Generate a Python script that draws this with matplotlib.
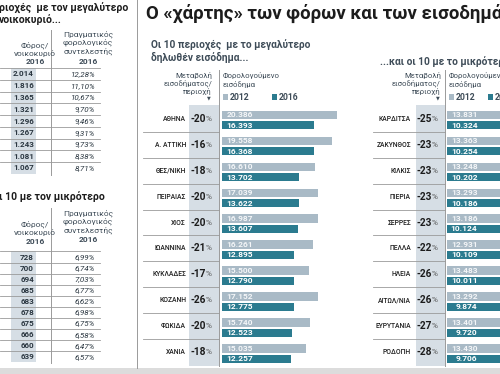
import numpy as np
import matplotlib
matplotlib.use("Agg")
import matplotlib.pyplot as plt
import matplotlib.transforms as mtransforms
from matplotlib.patches import Rectangle
from matplotlib.lines import Line2D

plt.rcParams['font.family'] = ['Roboto', 'DejaVu Sans']

tax_high = [2014, 1816, 1365, 1321, 1296, 1267, 1243, 1081, 1067]
rate_high = ['12,28%', '11,10%', '10,67%', '9,70%', '9,46%', '9,31%', '9,73%', '8,38%', '8,71%']
tax_low = [728, 700, 694, 685, 683, 678, 675, 666, 660, 639]
rate_low = ['6,99%', '6,74%', '7,03%', '6,77%', '6,62%', '6,98%', '6,75%', '6,58%', '6,47%', '6,57%']

top_regions = ['ΑΘΗΝΑ', 'Α. ΑΤΤΙΚΗ', 'ΘΕΣ/ΝΙΚΗ', 'ΠΕΙΡΑΙΑΣ', 'ΧΙΟΣ',
               'ΙΩΑΝΝΙΝΑ', 'ΚΥΚΛΑΔΕΣ', 'ΚΟΖΑΝΗ', 'ΦΩΚΙΔΑ', 'ΧΑΝΙΑ']
top_change = [-20, -16, -18, -20, -20, -21, -17, -26, -20, -18]
top_2012 = [20386, 19558, 16610, 17039, 16987, 16261, 15500, 17152, 15740, 15035]
top_2016 = [16393, 16368, 13702, 13622, 13607, 12895, 12790, 12775, 12523, 12257]

low_regions = ['ΚΑΡΔΙΤΣΑ', 'ΖΑΚΥΝΘΟΣ', 'ΚΙΛΚΙΣ', 'ΠΙΕΡΙΑ', 'ΣΕΡΡΕΣ',
               'ΠΕΛΛΑ', 'ΗΛΕΙΑ', 'ΑΙΤΩΛ/ΝΙΑ', 'ΕΥΡΥΤΑΝΙΑ', 'ΡΟΔΟΠΗ']
low_change = [-25, -23, -23, -23, -23, -22, -26, -26, -27, -28]
low_2012 = [13831, 13363, 13248, 13293, 13186, 12931, 13483, 13292, 13401, 13430]
low_2016 = [10324, 10254, 10202, 10186, 10124, 10109, 10011, 9874, 9720, 9706]

# ---- style ----
W, H = 500, 374
C2012 = '#a9bac6'
C2016 = '#2b7b8f'
SHADE = '#d6dee5'
LINE = '#9a9a9a'
TXT = '#1c1c1c'
SUB = '#3e4c58'
SCALE = 0.00564  # pixels per euro

fig = plt.figure(figsize=(W / 100, H / 100), dpi=100)
fig.patch.set_facecolor('white')


def fx(px):
    return px / W


def fy(py):
    return 1 - py / H


def axes_px(left, top, right, bottom):
    ax = fig.add_axes([fx(left), fy(bottom), (right - left) / W, (bottom - top) / H])
    ax.axis('off')
    return ax


def fmt(v):
    return f"{v:,}".replace(",", ".")


def ftext(x, y, s, **kw):
    fig.text(fx(x), fy(y), s, **kw)


def fline(x0, y0, x1, y1, **kw):
    fig.add_artist(Line2D([fx(x0), fx(x1)], [fy(y0), fy(y1)], transform=fig.transFigure,
                          color=LINE, lw=0.7, **kw))


def frect(x0, y0, x1, y1, color):
    fig.add_artist(Rectangle((fx(x0), fy(y1)), (x1 - x0) / W, (y1 - y0) / H,
                             transform=fig.transFigure, color=color, lw=0, zorder=0))


def bar_panel(x0, x1, regions, change, v12, v16, label_x, pct_x, shade, sep_x0):
    n = len(regions)
    top, step = 120, 25.95
    ax = axes_px(x0, top - 0.5 * step, x1, top + (n - 0.5) * step)
    ax.set_xlim(0, (x1 - x0) / SCALE)
    ax.set_ylim(n - 0.5, -0.5)
    y = np.arange(n)
    ax.barh(y - 0.2, v12, height=0.32, color=C2012)
    ax.barh(y + 0.2, v16, height=0.32, color=C2016)
    tr = mtransforms.blended_transform_factory(fig.transFigure, ax.transData)
    frect(shade[0], 105, shade[1], 366, SHADE)
    for i in range(n):
        ax.text(5500, i - 0.2, fmt(v12[i]), ha='right', va='center', color='#f4f6f8',
                fontsize=6, weight='bold')
        ax.text(5500, i + 0.2, fmt(v16[i]), ha='right', va='center', color='white',
                fontsize=6, weight='bold')
        ax.text(fx(label_x), i - 0.05, regions[i], transform=tr, ha='right', va='center',
                fontsize=4.9, weight='medium', color=TXT)
        ax.text(fx(pct_x + 3), i - 0.05, f"-{abs(change[i])}", transform=tr, ha='right',
                va='center', fontsize=7.3, weight='bold', color=TXT)
        ax.text(fx(pct_x + 3), i - 0.05, "%", transform=tr, ha='left',
                va='center', fontsize=6, color='#555555')
        if i < n - 1:
            ax.add_line(Line2D([fx(sep_x0), fx(shade[1])], [i + 0.45, i + 0.45],
                               transform=tr, color=LINE, lw=0.6, clip_on=False))
    fline(shade[1], 70, shade[1], 366)


def head_bar(xr, xl, sq2):
    for s, yy in zip(['Μεταβολή', 'εισοδήματος/', 'περιοχή'], [75, 83, 91]):
        ftext(xr, yy, s, ha='right', va='center', fontsize=5.6, color=SUB)
    ftext(xr - 3, 98, '▼', ha='center', va='center', fontsize=3.5, color=SUB,
          family='DejaVu Sans')
    ftext(xl, 75, 'Φορολογούμενο', ha='left', va='center', fontsize=5.6, color=SUB)
    ftext(xl, 84, 'εισόδημα', ha='left', va='center', fontsize=5.6, color=SUB)
    frect(xl, 94, xl + 5, 100, C2012)
    ftext(xl + 7, 97, '2012', ha='left', va='center', fontsize=6.2, weight='bold', color=SUB)
    frect(sq2, 94, sq2 + 5, 100, C2016)
    ftext(sq2 + 7, 97, '2016', ha='left', va='center', fontsize=6.2, weight='bold', color=SUB)


def table(row0, step, values, rates, head_y, div_top):
    n = len(values)
    ax = axes_px(0, row0 - 0.5 * step, 137, row0 + (n - 0.5) * step)
    ax.set_xlim(0, 137)
    ax.set_ylim(n - 0.5, -0.5)
    ax.axvspan(11, 36, color=SHADE, lw=0)
    for i in range(n):
        ax.text(34, i, fmt(values[i]), ha='right', va='center', fontsize=5.8,
                weight='bold', color='#2a3640')
        ax.text(95, i, rates[i], ha='right', va='center', fontsize=5.8,
                style='italic', color='#2a3640')
    for k in range(n):
        ax.add_line(Line2D([0, 100], [k - 0.5, k - 0.5], color=LINE, lw=0.6))
    hy = head_y
    for s, yy in zip(['Φόρος/', 'νοικοκυριό'], [hy + 11, hy + 19.5]):
        ftext(35, yy, s, ha='center', va='center', fontsize=6.0, color=SUB)
    ftext(35, hy + 28, '2016', ha='center', va='center', fontsize=6.0, weight='bold', color=SUB)
    for s, yy in zip(['Πραγματικός', 'φορολογικός', 'συντελεστής'], [hy, hy + 8.7, hy + 17.4]):
        ftext(88, yy, s, ha='center', va='center', fontsize=6.0, color=SUB)
    ftext(88, hy + 27, '2016', ha='center', va='center', fontsize=6.0, weight='bold', color=SUB)
    fline(51, div_top, 51, row0 + (n - 0.5) * step + 1)


# ---- left panel: tax per household tables ----
ftext(-1, 8, 'ριοχές  με τον μεγαλύτερο', ha='left', va='center', fontsize=7.5,
      weight='bold', color=TXT)
ftext(-1, 20, 'νοικοκυριό...', ha='left', va='center', fontsize=7.5, weight='bold', color=TXT)
table(74, 11.75, tax_high, rate_high, 34, 30)
ftext(-1, 197, 'ι 10 με τον μικρότερο', ha='left', va='center', fontsize=7.5,
      weight='bold', color=TXT)
table(257, 11.1, tax_low, rate_low, 213, 208)
fline(137, 0, 137, 368)

# ---- middle and right panels: declared income ----
ftext(146, 13, 'Ο «χάρτης» των φόρων και των εισοδημάτων', ha='left', va='center',
      fontsize=13.4, weight='bold', color=TXT)
ftext(151, 45, 'Οι 10 περιοχές  με το μεγαλύτερο', ha='left', va='center',
      fontsize=7.3, weight='bold', color=SUB)
ftext(151, 57, 'δηλωθέν εισόδημα...', ha='left', va='center',
      fontsize=7.3, weight='bold', color=SUB)
ftext(380, 61, '...και οι 10 με το μικρότερο δηλωθέν εισόδημα', ha='left', va='center',
      fontsize=7.3, weight='bold', color=SUB)

head_bar(212, 223, 272)
head_bar(441, 449, 488)
bar_panel(221.7, 345, top_regions, top_change, top_2012, top_2016, 186, 203, (189, 219), 143)
bar_panel(446.5, 500, low_regions, low_change, low_2012, low_2016, 411, 429, (416, 445), 373)

frect(0, 368, 500, 374, '#dcdcdc')

fig.savefig('out.png', dpi=100)
